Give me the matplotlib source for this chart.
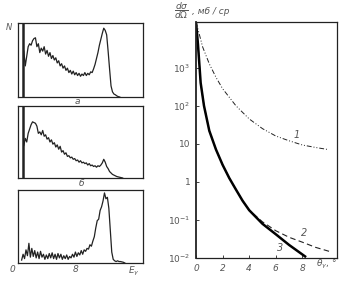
import numpy as np
import matplotlib
matplotlib.use("Agg")
import matplotlib.pyplot as plt

# ---------------- data ----------------
# left spectra (normalised counts), energy grid start/step in MeV
spec_a_start, spec_a_step = 0.8, 0.2
spec_a = [0.62, 0.42, 0.55, 0.68, 0.72, 0.70, 0.76, 0.79, 0.80, 0.68,
          0.72, 0.60, 0.66, 0.62, 0.68, 0.58, 0.63, 0.55, 0.60, 0.52,
          0.56, 0.50, 0.53, 0.46, 0.49, 0.42, 0.45, 0.39, 0.42, 0.36,
          0.39, 0.33, 0.36, 0.31, 0.35, 0.30, 0.33, 0.29, 0.32, 0.28,
          0.31, 0.29, 0.33, 0.29, 0.32, 0.30, 0.34, 0.33, 0.38, 0.44,
          0.52, 0.60, 0.70, 0.78, 0.86, 0.93, 0.90, 0.84, 0.62, 0.38,
          0.15, 0.07, 0.04, 0.03, 0.015, 0.005, 0.0]
spec_b_start, spec_b_step = 0.8, 0.2
spec_b = [0.45, 0.55, 0.50, 0.62, 0.68, 0.74, 0.78, 0.77, 0.76, 0.72,
          0.62, 0.64, 0.60, 0.66, 0.58, 0.60, 0.54, 0.56, 0.50, 0.53,
          0.47, 0.49, 0.43, 0.46, 0.40, 0.44, 0.36, 0.38, 0.33, 0.35,
          0.30, 0.31, 0.28, 0.29, 0.26, 0.27, 0.24, 0.25, 0.22, 0.24,
          0.21, 0.22, 0.20, 0.21, 0.18, 0.20, 0.17, 0.18, 0.16, 0.17,
          0.15, 0.17, 0.16, 0.18, 0.21, 0.26, 0.22, 0.16, 0.13, 0.09,
          0.07, 0.05, 0.04, 0.03, 0.02, 0.015, 0.01, 0.005, 0.0]
spec_c_start, spec_c_step = 0.5, 0.2
spec_c = [0.04, 0.12, 0.06, 0.18, 0.10, 0.27, 0.08, 0.20, 0.09, 0.17,
          0.07, 0.15, 0.06, 0.16, 0.08, 0.12, 0.05, 0.11, 0.06, 0.13,
          0.07, 0.14, 0.06, 0.12, 0.05, 0.13, 0.07, 0.12, 0.05, 0.10,
          0.06, 0.11, 0.05, 0.09, 0.07, 0.12, 0.08, 0.15, 0.09, 0.14,
          0.11, 0.17, 0.12, 0.18, 0.16, 0.20, 0.19, 0.25, 0.23, 0.30,
          0.36, 0.48, 0.58, 0.60, 0.72, 0.77, 0.85, 0.96, 0.88, 0.90,
          0.75, 0.45, 0.15, 0.05, 0.03, 0.02, 0.03, 0.02, 0.02, 0.015,
          0.01, 0.0]
spike_E = 0.7        # strong low-energy line in spectra a and b
spike_h = 1.0

# right panel: cross sections (mb/sr) vs angle (deg)
theta1 = [0.0, 0.5, 1.0, 1.5, 2.0, 3.0, 4.0, 5.0, 6.0, 7.0, 8.0, 9.0, 9.9]
sigma1 = [1.6e4, 3500, 1260, 560, 280, 100, 45, 25, 16, 12, 9.3, 8.0, 7.1]
theta2 = [0.0, 0.15, 0.35, 0.6, 1.0, 1.5, 2.0, 2.5, 3.0, 3.5, 4.0, 5.0,
          6.0, 7.0, 8.0, 9.0, 10.0]
sigma2 = [1.6e4, 4000, 400, 100, 22, 7.1, 2.8, 1.26, 0.63, 0.32, 0.18,
          0.089, 0.052, 0.035, 0.026, 0.019, 0.015]
theta3 = [0.0, 0.15, 0.35, 0.6, 1.0, 1.5, 2.0, 2.5, 3.0, 3.5, 4.0, 5.0,
          6.0, 7.0, 8.2]
sigma3 = [1.6e4, 4000, 400, 100, 22, 7.1, 2.8, 1.26, 0.63, 0.32, 0.18,
          0.079, 0.042, 0.022, 0.011]
ytick_vals = [1e-2, 1e-1, 1, 10, 1e2, 1e3]
ytick_labels = [r"$10^{-2}$", r"$10^{-1}$", "1", "10", r"$10^{2}$", r"$10^{3}$"]
xtick_vals = [0, 2, 4, 6, 8]

# ---------------- figure ----------------
W, H = 349, 283
fig = plt.figure(figsize=(W / 100, H / 100), dpi=100)
ink = "#222222"
txt = "#555555"

def box(x0, y0, x1, y1):
    return [x0 / W, 1 - y1 / H, (x1 - x0) / W, (y1 - y0) / H]

panels = [
    (box(18, 23, 143, 97), spec_a_start, spec_a_step, spec_a, True),
    (box(18, 106, 143, 178), spec_b_start, spec_b_step, spec_b, True),
    (box(18, 190, 143, 263), spec_c_start, spec_c_step, spec_c, False),
]
for rect, e0, de, vals, spike in panels:
    ax = fig.add_axes(rect)
    e = e0 + de * np.arange(len(vals))
    ax.plot(e, vals, color=ink, lw=0.9)
    if spike:
        ax.vlines(spike_E, 0, spike_h, color=ink, lw=1.8)
    ax.set_xlim(0, 17.2)
    ax.set_ylim(0, 1.0)
    ax.set_xticks([])
    ax.set_yticks([])
    for s in ax.spines.values():
        s.set_color(ink)
        s.set_linewidth(0.9)

fig.text(9 / W, 1 - 28 / H, "N", fontsize=6, color=txt, style="italic",
         ha="center", va="center")
fig.text(77 / W, 1 - 101 / H, "а", fontsize=6.5, color=txt, style="italic",
         ha="center", va="center")
fig.text(81 / W, 1 - 184 / H, "б", fontsize=6.5, color=txt, style="italic",
         ha="center", va="center")
fig.text(12 / W, 1 - 270 / H, "0", fontsize=6.5, color=txt, style="italic",
         ha="center", va="center")
fig.text(76 / W, 1 - 270 / H, "8", fontsize=6.5, color=txt, style="italic",
         ha="center", va="center")
fig.text(134 / W, 1 - 271 / H, r"$E_{\gamma}$", fontsize=6.5, color=txt,
         ha="center", va="center")

# right panel
axr = fig.add_axes(box(196, 22, 337, 258))
axr.plot(theta1, sigma1, color=ink, lw=0.7, ls=(0, (5, 2, 1, 2, 1, 2)))
axr.plot(theta2, sigma2, color=ink, lw=0.8, ls=(0, (5, 3)))
axr.plot(theta3, sigma3, color="black", lw=1.8)
axr.set_yscale("log")
axr.set_xlim(0, 10.6)
axr.set_ylim(1e-2, 10 ** 4.2)
axr.set_yticks(ytick_vals)
axr.set_yticklabels(ytick_labels)
axr.minorticks_off()
axr.set_xticks(xtick_vals)
axr.tick_params(axis="both", which="both", direction="in", length=2,
                width=0.6, labelsize=6.5, labelcolor=txt, color=ink, pad=4)
for s in axr.spines.values():
    s.set_color(ink)
    s.set_linewidth(0.9)
axr.spines["left"].set_linewidth(1.3)
for lab in axr.get_xticklabels():
    lab.set_style("italic")

axr.text(7.6, 12.6, "1", fontsize=7, color=txt, style="italic",
         ha="center", va="bottom")
axr.text(8.1, 0.034, "2", fontsize=7, color=txt, style="italic",
         ha="center", va="bottom")
axr.text(6.3, 0.0135, "3", fontsize=7, color=txt, style="italic",
         ha="center", va="bottom")

fig.text(174 / W, 1 - 11 / H, r"$\dfrac{d\sigma}{d\Omega}$", fontsize=6.5,
         color=txt, ha="left", va="center")
fig.text(192 / W, 1 - 11 / H, ", мб / ср", fontsize=6.5, style="italic",
         color=txt, ha="left", va="center")
fig.text(316 / W, 1 - 264 / H, r"$\theta_{\gamma}$, °", fontsize=6.5,
         color=txt, ha="left", va="center")

fig.savefig("out.png", dpi=100, facecolor="white")
